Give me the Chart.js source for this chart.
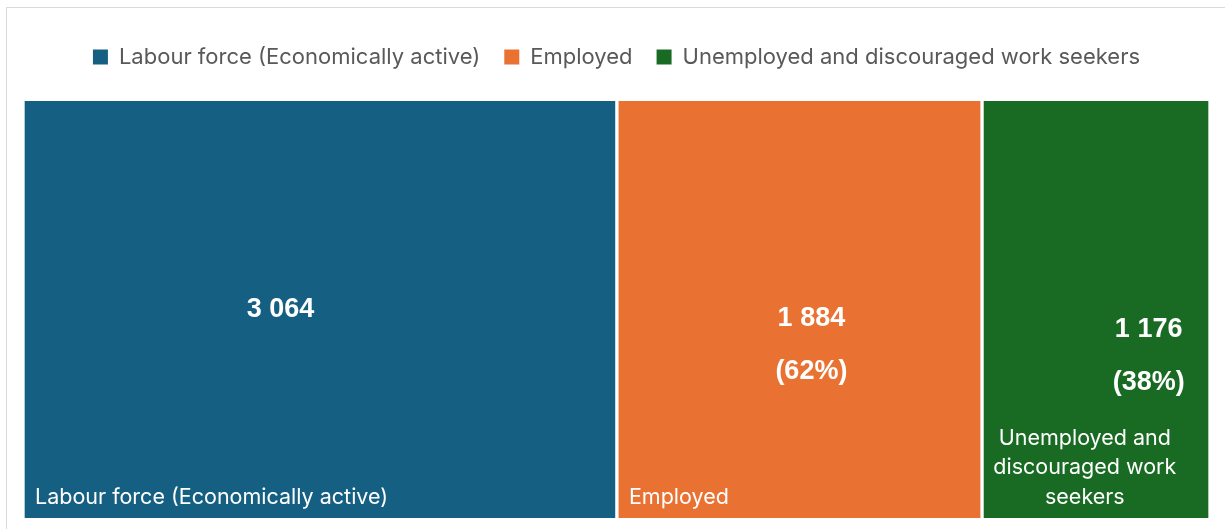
<!DOCTYPE html>
<html>
<head>
<meta charset="utf-8">
<script src="https://cdn.jsdelivr.net/npm/chart.js@4.4.1/dist/chart.umd.min.js"></script>
<style>
  html, body { margin: 0; padding: 0; background: #ffffff; }
  #wrap { position: relative; width: 1225px; height: 529px; overflow: hidden; }
  #frame { position: absolute; left: 6px; top: 7px; width: 1240px; height: 560px;
           border-left: 1.5px solid #d9d9d9; border-top: 1.5px solid #d9d9d9; box-sizing: border-box; }
  canvas { position: absolute; left: 0; top: 0; }
</style>
</head>
<body>
<div id="wrap">
  <div id="frame"></div>
  <canvas id="chart" width="1225" height="529"></canvas>
</div>
<script>
// Labour market breakdown (thousands)
const categories = ['Labour force (Economically active)', 'Employed', 'Unemployed and discouraged work seekers'];
const values = [3064, 1884, 1176];
const valueLabels = ['3 064', '1 884', '1 176'];
const shareLabels = ['', '(62%)', '(38%)'];
const tileNames = [
  ['Labour force (Economically active)'],
  ['Employed'],
  ['Unemployed and', 'discouraged work', 'seekers']
];
const colors = ['#156082', '#E97132', '#196B24'];

const total = values.reduce((a, b) => a + b, 0);
const FONT = 'Inter, "Open Sans", sans-serif';
const BOLD = '"Liberation Sans", Arial, sans-serif';

// Tile text: value (+ share) in the upper part, name at the bottom
const tileText = {
  id: 'tileText',
  afterDatasetsDraw(chart) {
    const ctx = chart.ctx;
    ctx.save();
    ctx.fillStyle = '#ffffff';
    chart.data.datasets.forEach((ds, i) => {
      const el = chart.getDatasetMeta(i).data[0];
      const left = Math.min(el.base, el.x) + 2;
      const right = Math.max(el.base, el.x) - 2;
      const w = right - left;
      const top = el.y - el.height / 2;
      const bottom = el.y + el.height / 2;
      const h = bottom - top;

      // value + share
      const vx = [0.433, 0.533, 0.735][i];
      const vy = [0.5, 0.522, 0.548][i];
      ctx.font = 'bold 27px ' + BOLD;
      ctx.textAlign = 'center';
      ctx.textBaseline = 'middle';
      ctx.fillText(valueLabels[i], left + w * vx, top + h * vy);
      if (shareLabels[i]) {
        ctx.fillText(shareLabels[i], left + w * vx, top + h * vy + 53);
      }

      // tile name
      ctx.font = '21.5px ' + FONT;
      const lines = tileNames[i];
      const lh = 29.5;
      if (lines.length === 1) {
        ctx.textAlign = 'left';
        ctx.fillText(lines[0], left + 10, bottom - 20.5);
      } else {
        ctx.textAlign = 'center';
        const cx = left + w * 0.45;
        lines.forEach((ln, k) => {
          ctx.fillText(ln, cx, bottom - 20.5 - (lines.length - 1 - k) * lh);
        });
      }
    });
    ctx.restore();
  }
};

// Fixed legend band height so the tiles start right below it
const legendBand = {
  id: 'legendBand',
  beforeLayout(chart) {
    const lg = chart.legend;
    if (lg && !lg._bandPatched) {
      const fit = lg.fit.bind(lg);
      lg.fit = function () { fit(); this.height = 79; };
      lg._bandPatched = true;
    }
  }
};

new Chart(document.getElementById('chart'), {
  type: 'bar',
  data: {
    labels: ['Total'],
    datasets: categories.map((c, i) => ({
      label: c,
      data: [values[i]],
      backgroundColor: colors[i],
      borderColor: '#ffffff',
      borderWidth: { left: 2, right: 2, top: 0, bottom: 0 },
      borderSkipped: false,
      barPercentage: 1,
      categoryPercentage: 1
    }))
  },
  options: {
    indexAxis: 'y',
    responsive: false,
    animation: false,
    layout: { padding: { left: 23, right: 15, top: 22, bottom: 11 } },
    scales: {
      x: { stacked: true, min: 0, max: total, display: false },
      y: { stacked: true, display: false }
    },
    plugins: {
      tooltip: { enabled: false },
      legend: {
        position: 'top',
        align: 'center',
        labels: {
          boxWidth: 15,
          boxHeight: 15,
          padding: 24,
          color: '#595959',
          font: { family: FONT, size: 22 },
          generateLabels(chart) {
            return chart.data.datasets.map((ds, i) => ({
              text: ds.label,
              fillStyle: ds.backgroundColor,
              strokeStyle: ds.backgroundColor,
              lineWidth: 0,
              fontColor: '#595959',
              datasetIndex: i
            }));
          }
        }
      }
    }
  },
  plugins: [legendBand, tileText]
});
</script>
</body>
</html>
